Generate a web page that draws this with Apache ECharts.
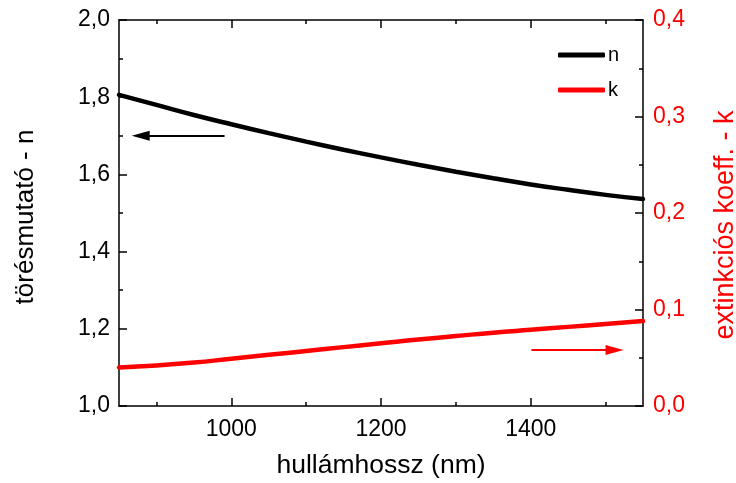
<!DOCTYPE html>
<html>
<head>
<meta charset="utf-8">
<script src="https://cdn.jsdelivr.net/npm/echarts@6/dist/echarts.min.js"></script>
<style>html,body{margin:0;padding:0;background:#fff;overflow:hidden}#c{width:736px;height:483px}</style>
</head>
<body>
<div id="c"></div>
<script>
const wavelengths = [850, 900, 950, 1000, 1050, 1100, 1150, 1200, 1250, 1300, 1350, 1400, 1450, 1500, 1550];
const nValues = [1.806, 1.780, 1.754, 1.730, 1.707, 1.685, 1.664, 1.644, 1.625, 1.607, 1.590, 1.574, 1.560, 1.547, 1.536];
const kValues = [0.0400, 0.0420, 0.0450, 0.0490, 0.0530, 0.0570, 0.0610, 0.0650, 0.0690, 0.0725, 0.0760, 0.0790, 0.0820, 0.0850, 0.0880];
const xMajorTicks = [1000, 1200, 1400];
const xMinorTicks = [900, 1100, 1300, 1500];
const nArrow = [[991, 1.700], [879, 1.700]];
const kArrow = [[1401, 0.058], [1512, 0.058]];
const xTitle = 'hullámhossz (nm)';
const yLeftTitle = 'törésmutató - n';
const yRightTitle = 'extinkciós koeff. - k';

const FONT = "'Liberation Sans', Arial, sans-serif";
const fmt = v => v.toFixed(1).replace('.', ',');
const nData = wavelengths.map((x, i) => [x, nValues[i]]);
const kData = wavelengths.map((x, i) => [x, kValues[i]]);
const tickStyle = {color: '#000', width: 1.5};

const baseX = {type: 'value', min: 850, max: 1550, splitLine: {show: false}};
const chart = echarts.init(document.getElementById('c'), null, {width: 736, height: 483});
chart.setOption({
  animation: false,
  backgroundColor: '#fff',
  grid: {left: 119, right: 93, top: 20, bottom: 77, containLabel: false, outerBoundsMode: 'none'},
  legend: {
    orient: 'vertical', left: 553, top: 40, itemWidth: 47, itemHeight: 5, itemGap: 15,
    icon: 'roundRect',
    textStyle: {fontFamily: FONT, fontSize: 20, color: '#000', padding: [0, 0, 0, -2]},
    data: ['n', 'k']
  },
  xAxis: [
    Object.assign({}, baseX, {position: 'bottom',
      name: xTitle, nameLocation: 'middle', nameGap: 46,
      nameTextStyle: {fontFamily: FONT, fontSize: 26.5, color: '#000'},
      axisLine: {show: true, lineStyle: {color: '#000', width: 1.5}},
      axisTick: {show: true, inside: true, length: 8, customValues: xMajorTicks, lineStyle: tickStyle},
      axisLabel: {show: true, fontFamily: FONT, fontSize: 23, color: '#000', margin: 12,
        customValues: xMajorTicks, formatter: v => String(v)}}),
    Object.assign({}, baseX, {position: 'bottom',
      axisLine: {show: false}, axisLabel: {show: false},
      axisTick: {show: true, inside: true, length: 4, customValues: xMinorTicks, lineStyle: tickStyle}}),
    Object.assign({}, baseX, {position: 'top',
      axisLine: {show: true, lineStyle: {color: '#000', width: 1.5}}, axisLabel: {show: false},
      axisTick: {show: true, inside: true, length: 8, customValues: xMajorTicks, lineStyle: tickStyle}}),
    Object.assign({}, baseX, {position: 'top',
      axisLine: {show: false}, axisLabel: {show: false},
      axisTick: {show: true, inside: true, length: 4, customValues: xMinorTicks, lineStyle: tickStyle}})
  ],
  yAxis: [
    {type: 'value', position: 'left', min: 1.0, max: 2.0, interval: 0.2,
      splitLine: {show: false},
      name: yLeftTitle, nameLocation: 'middle', nameGap: 80,
      nameTextStyle: {fontFamily: FONT, fontSize: 26, color: '#000', padding: [0, 8, 0, 0]},
      axisLine: {show: true, lineStyle: {color: '#000', width: 1.5}},
      axisTick: {show: true, inside: true, length: 8, lineStyle: tickStyle},
      minorTick: {show: true, splitNumber: 2, length: 4, lineStyle: tickStyle},
      axisLabel: {fontFamily: FONT, fontSize: 23, color: '#000', margin: 9, formatter: fmt}},
    {type: 'value', position: 'right', min: 0, max: 0.4, interval: 0.1,
      splitLine: {show: false},
      name: yRightTitle, nameLocation: 'middle', nameGap: 69,
      nameTextStyle: {fontFamily: FONT, fontSize: 27, color: '#ff0000', padding: [0, 24, 0, 0]},
      axisLine: {show: true, lineStyle: {color: '#000', width: 1.5}},
      axisTick: {show: true, inside: true, length: 8, lineStyle: tickStyle},
      minorTick: {show: true, splitNumber: 2, length: 4, lineStyle: tickStyle},
      axisLabel: {fontFamily: FONT, fontSize: 23, color: '#ff0000', margin: 10, formatter: fmt}}
  ],
  series: [
    {name: 'n', type: 'line', xAxisIndex: 0, yAxisIndex: 0, data: nData, smooth: true,
      showSymbol: false, symbol: 'none', color: '#000',
      lineStyle: {color: '#000', width: 4.5, cap: 'round'},
      markLine: {silent: true, symbol: ['none', 'triangle'], symbolSize: [10, 18],
        lineStyle: {color: '#000', width: 2, type: 'solid'}, label: {show: false},
        data: [[{coord: nArrow[0]}, {coord: nArrow[1]}]]}},
    {name: 'k', type: 'line', xAxisIndex: 0, yAxisIndex: 1, data: kData, smooth: true,
      showSymbol: false, symbol: 'none', color: '#ff0000',
      lineStyle: {color: '#ff0000', width: 4.5, cap: 'round'},
      markLine: {silent: true, symbol: ['none', 'triangle'], symbolSize: [10, 18],
        lineStyle: {color: '#ff0000', width: 2, type: 'solid'}, label: {show: false},
        data: [[{coord: kArrow[0]}, {coord: kArrow[1]}]]}}
  ]
});
</script>
</body>
</html>
